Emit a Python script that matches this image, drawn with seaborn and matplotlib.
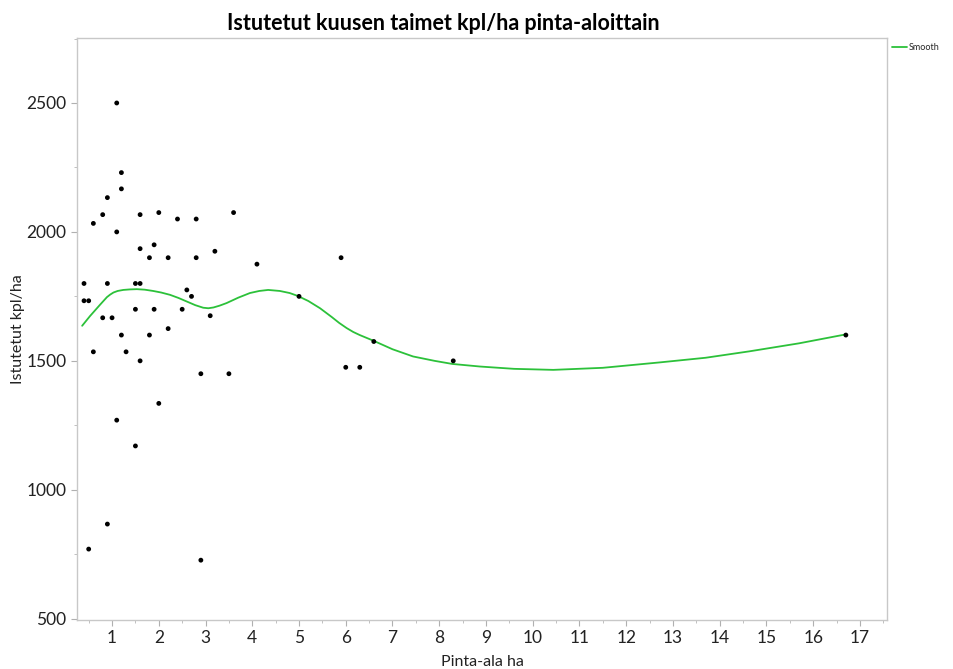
import matplotlib
matplotlib.use("Agg")
import matplotlib.pyplot as plt
from matplotlib.ticker import MultipleLocator
import seaborn as sns
import pandas as pd

# Planted spruce seedlings per hectare by stand area
area_ha = [1.1, 1.2, 1.2, 0.9, 0.8, 0.6, 1.1, 1.6, 2.0, 2.4, 2.8, 3.6,
           1.6, 1.9, 1.8, 2.2, 2.8, 3.2, 0.4, 0.9, 1.5, 1.6, 0.4, 0.5,
           2.6, 2.7, 1.5, 1.9, 2.5, 0.8, 1.0, 3.1, 2.2, 1.2, 1.8, 0.6,
           1.3, 1.6, 2.9, 3.5, 2.0, 1.1, 1.5, 0.9, 0.5, 2.9, 4.1, 5.9,
           5.0, 6.0, 6.3, 6.6, 8.3, 16.7]
planted = [2500, 2230, 2167, 2133, 2067, 2033, 2000, 2067, 2075, 2050, 2050, 2075,
           1935, 1950, 1900, 1900, 1900, 1925, 1800, 1800, 1800, 1800, 1733, 1733,
           1775, 1750, 1700, 1700, 1700, 1667, 1667, 1675, 1625, 1600, 1600, 1535,
           1535, 1500, 1450, 1450, 1335, 1270, 1170, 867, 770, 727, 1875, 1900,
           1750, 1475, 1475, 1575, 1500, 1600]

# Smoothing spline fit
smooth_x = [0.36, 0.53, 0.74, 0.89, 0.96, 1.03, 1.12, 1.24, 1.38, 1.53, 1.7,
            1.88, 2.05, 2.24, 2.42, 2.6, 2.78, 2.95, 3.06, 3.17, 3.3, 3.45,
            3.7, 3.95, 4.15, 4.34, 4.59, 4.8, 4.97, 5.2, 5.45, 5.7, 5.86,
            6.02, 6.16, 6.3, 6.58, 7.0, 7.44, 7.9, 8.28, 8.87, 9.6, 10.44,
            11.5, 12.72, 13.7, 14.64, 15.7, 16.71]
smooth_y = [1636, 1674, 1717, 1747, 1757, 1765, 1771, 1775, 1777, 1778, 1776,
            1771, 1765, 1756, 1744, 1730, 1716, 1706, 1704, 1707, 1714, 1724,
            1745, 1763, 1771, 1775, 1771, 1763, 1752, 1732, 1704, 1670, 1647,
            1627, 1612, 1600, 1579, 1545, 1517, 1500, 1488, 1478, 1469, 1465,
            1473, 1494, 1512, 1537, 1568, 1603]

x_ticks = list(range(1, 18))
y_ticks = [500, 1000, 1500, 2000, 2500]

points = pd.DataFrame({"Pinta-ala ha": area_ha, "Istutetut kpl/ha": planted})
curve = pd.DataFrame({"x": smooth_x, "y": smooth_y})

sns.set_style("white")
plt.rcParams["font.family"] = ["Lato", "DejaVu Sans"]

fig = plt.figure(figsize=(9.54, 6.69), dpi=100)
ax = fig.add_axes([77 / 954, 1 - 620 / 669, (887 - 77) / 954, (620 - 38) / 669])

sns.scatterplot(data=points, x="Pinta-ala ha", y="Istutetut kpl/ha", ax=ax,
                color="black", s=12, edgecolor="none", zorder=3)
sns.lineplot(data=curve, x="x", y="y", ax=ax, color="#2cc13a", linewidth=1.3,
             label="Smooth", zorder=2, sort=False)

ax.set_xlim(0.25, 17.58)
ax.set_ylim(495, 2752)
ax.set_xticks(x_ticks)
ax.set_yticks(y_ticks)
ax.xaxis.set_minor_locator(MultipleLocator(0.5))
ax.yaxis.set_minor_locator(MultipleLocator(250))
ax.tick_params(axis="both", which="major", direction="out", length=4, width=0.8,
               color="#b0b0b0", labelsize=12.5, labelcolor="#222222",
               bottom=True, left=True)
ax.tick_params(axis="both", which="minor", direction="out", length=2.5, width=0.7,
               color="#c0c0c0", bottom=True, left=True)
for side in ["left", "bottom", "top", "right"]:
    ax.spines[side].set_color("#c8c8c8")
    ax.spines[side].set_linewidth(1.0)

ax.set_xlabel("Pinta-ala ha", fontsize=11.5, color="#222222", labelpad=6)
ax.set_ylabel("Istutetut kpl/ha", fontsize=11.5, color="#222222", labelpad=1)
fig.text(443 / 954, 1 - 24 / 669,
         "Istutetut kuusen taimet kpl/ha pinta-aloittain",
         ha="center", va="center", fontsize=15.5, fontweight="bold", color="black")

leg = ax.legend(loc="upper left", bbox_to_anchor=(1.0, 1.0), frameon=False,
                fontsize=6.5, handlelength=1.6, handletextpad=0.2,
                borderaxespad=0.2)

fig.savefig("out.png", dpi=100)
